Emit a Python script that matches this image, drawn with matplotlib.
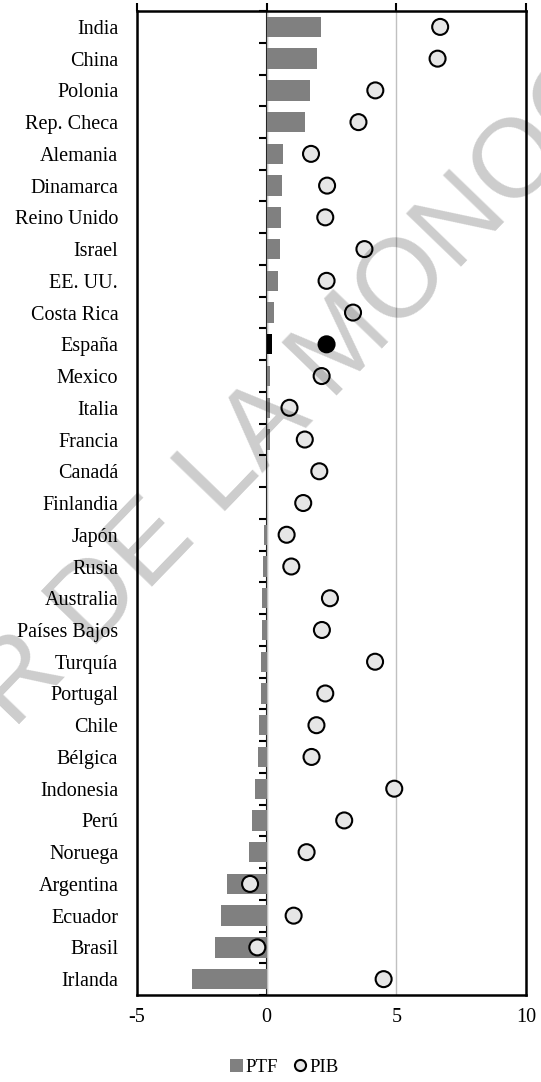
import numpy as np
import matplotlib.pyplot as plt
from matplotlib.patches import Patch
from matplotlib.lines import Line2D

# Crecimiento anual medio (%): productividad total de los factores y PIB
paises = ['India', 'China', 'Polonia', 'Rep. Checa', 'Alemania', 'Dinamarca',
          'Reino Unido', 'Israel', 'EE. UU.', 'Costa Rica', 'España', 'Mexico',
          'Italia', 'Francia', 'Canadá', 'Finlandia', 'Japón', 'Rusia',
          'Australia', 'Países Bajos', 'Turquía', 'Portugal', 'Chile', 'Bélgica',
          'Indonesia', 'Perú', 'Noruega', 'Argentina', 'Ecuador', 'Brasil', 'Irlanda']
ptf = [2.08, 1.95, 1.67, 1.49, 0.64, 0.60, 0.55, 0.53, 0.45, 0.28, 0.22, 0.13,
       0.13, 0.12, 0.02, 0.01, -0.10, -0.15, -0.17, -0.17, -0.21, -0.23, -0.29,
       -0.35, -0.45, -0.56, -0.69, -1.54, -1.77, -2.01, -2.87]
pib = [6.69, 6.59, 4.19, 3.54, 1.71, 2.33, 2.26, 3.77, 2.31, 3.33, 2.31, 2.12,
       0.88, 1.47, 2.03, 1.41, 0.77, 0.95, 2.44, 2.13, 4.18, 2.26, 1.92, 1.73,
       4.92, 2.99, 1.54, -0.64, 1.04, -0.36, 4.51]
destacado = 'España'
xticks = [-5, 0, 5, 10]

plt.rcParams['font.family'] = 'Liberation Serif'

y = np.arange(len(paises))
colores_bar = ['black' if p == destacado else '#808080' for p in paises]
colores_pto = ['black' if p == destacado else '#e6e6e6' for p in paises]

fig = plt.figure(figsize=(5.41, 10.82), dpi=100)
ax = fig.add_axes([0.2532, 0.0804, 0.7191, 0.9094])

ax.barh(y, ptf, height=0.64, color=colores_bar, zorder=2)
ax.scatter(pib, y, s=11.5**2, c=colores_pto, edgecolors='black', linewidths=1.5, zorder=3)

ax.set_xlim(-5, 10)
ax.set_ylim(len(paises) - 0.5, -0.5)
ax.set_xticks(xticks)
ax.set_xticklabels([str(v) for v in xticks])
ax.grid(axis='x', color='#c0c0c0', linewidth=1.0, zorder=0)
ax.set_axisbelow(True)

ax.set_yticks(y)
ax.set_yticklabels(paises)
ax.tick_params(axis='y', length=0, pad=13.5, labelsize=14.5)
ax.tick_params(axis='x', bottom=False, top=True, labelbottom=True, labeltop=False,
               length=6, width=1.5, pad=3.5, labelsize=14.5)
for s in ax.spines.values():
    s.set_linewidth(1.8)

# eje vertical en x = 0 con marcas entre categorías
eje0 = ax.secondary_yaxis(1 / 3)
eje0.set_yticks(np.arange(len(paises) + 1) - 0.5)
eje0.set_yticklabels([])
eje0.tick_params(length=6, width=1.5, direction='out')
eje0.spines['left'].set_linewidth(1.5)

handles = [Patch(facecolor='#808080', label='PTF'),
           Line2D([], [], marker='o', linestyle='none', markersize=8,
                  markerfacecolor='#e6e6e6', markeredgecolor='black',
                  markeredgewidth=1.5, label='PIB')]
fig.legend(handles=handles, loc='center', bbox_to_anchor=(0.525, 0.0135), ncol=2,
           frameon=False, fontsize=13.5, handlelength=0.7, handleheight=0.7,
           handletextpad=0.15, columnspacing=0.8)

fig.text(0.571, 0.646, 'AUTOR DE LA MONOGRAFÍA', rotation=46, ha='center', va='center',
         fontsize=80, family='Liberation Sans', color='black', alpha=0.2,
         rotation_mode='anchor', zorder=10)

fig.savefig('out.png', dpi=100)
